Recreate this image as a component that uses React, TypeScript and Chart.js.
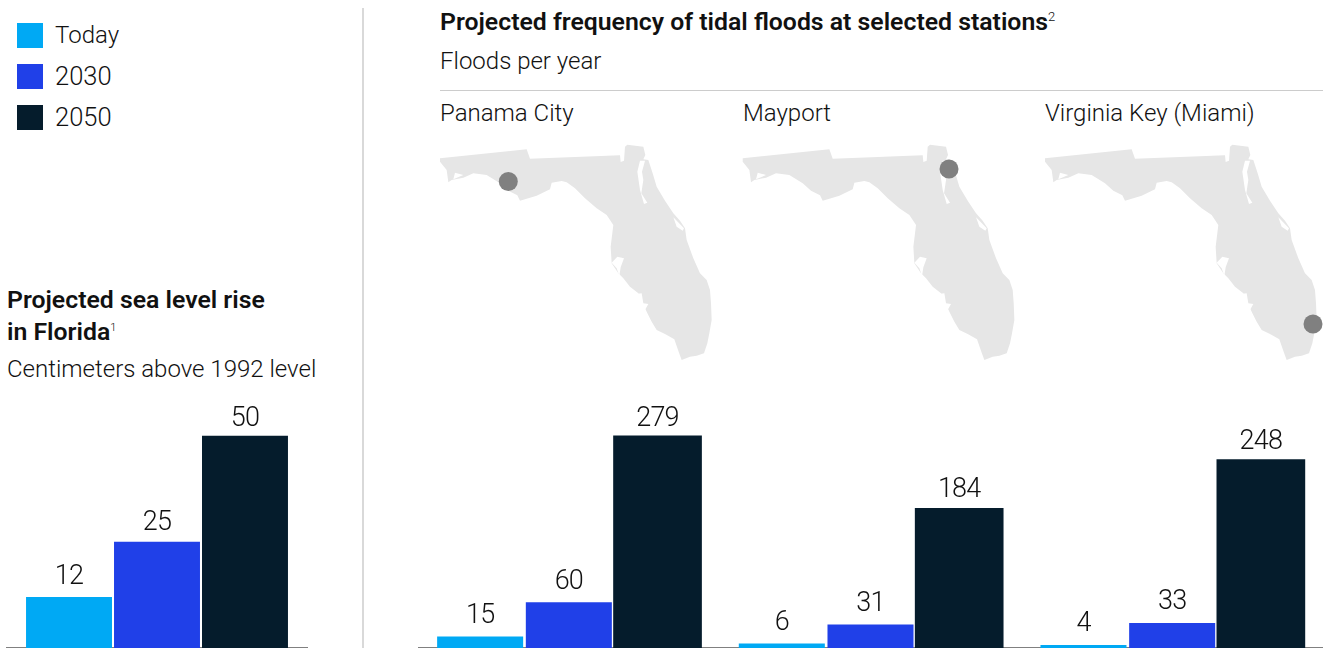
import React, { useEffect, useRef } from "react";
import { Chart, registerables } from "chart.js";

Chart.register(...registerables);

const seriesNames = ["Today", "2030", "2050"];
const seriesColors = ["#00A9F4", "#2040E8", "#051C2C"];
const seaCategories = ["Florida"];
const seaToday = [12];
const sea2030 = [25];
const sea2050 = [50];
const stationNames = ["Panama City", "Mayport", "Virginia Key (Miami)"];
const floodsToday = [15, 6, 4];
const floods2030 = [60, 31, 33];
const floods2050 = [279, 184, 248];

const FONT = "Roboto, sans-serif";
const stationX = [440, 743, 1045];
const mapOffsets = [0, 302.7, 605];
const dots = [
  [508.3, 181.5],
  [949, 169],
  [1313, 324],
];

const valueLabels = {
  id: "valueLabels",
  afterDatasetsDraw(chart: any) {
    const { ctx } = chart;
    ctx.save();
    ctx.font = `300 27px ${FONT}`;
    (ctx as any).letterSpacing = "-0.8px";
    ctx.fillStyle = "#111";
    ctx.textAlign = "center";
    ctx.textBaseline = "alphabetic";
    chart.data.datasets.forEach((ds: any, i: number) => {
      chart.getDatasetMeta(i).data.forEach((bar: any, j: number) => {
        const h = bar.base - bar.y;
        ctx.fillText(String(ds.data[j]), bar.x, bar.y - (14 - (4 * h) / 211.5));
      });
    });
    ctx.restore();
  },
};

function makeChart(canvas: HTMLCanvasElement, labels: string[], rows: number[][], yMax: number, cat: number, bars: number[]) {
  return new Chart(canvas, {
    type: "bar",
    data: {
      labels,
      datasets: rows.map((data, i) => ({
        label: seriesNames[i],
        data,
        backgroundColor: seriesColors[i],
        categoryPercentage: cat,
        barPercentage: bars[i],
      })),
    },
    options: {
      animation: false,
      responsive: false,
      layout: { padding: 0 },
      plugins: { legend: { display: false }, tooltip: { enabled: false } },
      scales: {
        x: {
          grid: { display: false, drawTicks: false },
          border: { color: "#808080", width: 1.5 },
          ticks: { display: false, padding: 0 },
        },
        y: { display: false, min: 0, max: yMax },
      },
    },
    plugins: [valueLabels],
  });
}

const FL =
  "M30 85 L290 58 L300 86 L570 76 L572 96 L582 92 L585 50 L592 44 L640 50 L646 75 L640 88 L655 90 L668 130 L680 170 L705 212 L730 250 L750 272 L765 295 L770 330 L790 385 L810 430 L830 450 L840 480 L843 520 L845 570 L838 610 L832 640 L822 670 L800 677 L780 680 L755 690 L747 668 L733 628 L705 612 L680 600 L665 575 L650 545 L625 490 L600 470 L580 445 L565 430 L545 400 L542 350 L550 285 L530 255 L500 235 L465 205 L435 175 L410 157 L395 153 L365 158 L360 178 L320 197 L270 212 L262 196 L235 182 L210 160 L170 135 L130 130 L100 143 L65 150 L55 157 L50 120 L30 95 Z";
const FL_CUTS =
  "M545 398 L562 380 L582 385 L572 412 L568 438 L560 415 Z M617 492 L635 490 L640 520 L655 522 L642 545 L630 515 Z M630 92 L645 92 L636 125 L640 150 L634 190 L652 218 L642 222 L630 180 L622 125 Z M730 262 L762 295 L758 302 L740 290 Z M75 128 L100 135 L70 148 Z";

function Txt({ x, y, size = 24, bold = false, children }: any) {
  return (
    <div
      style={{
        position: "absolute",
        left: x,
        top: y,
        fontFamily: FONT,
        fontSize: size,
        fontWeight: bold ? 600 : 300,
        lineHeight: "28px",
        color: "#111",
        whiteSpace: "nowrap",
      }}
    >
      {children}
    </div>
  );
}

const supStyle = { fontSize: 13, fontWeight: 300, lineHeight: 0 };

export default function App() {
  const left = useRef<HTMLCanvasElement>(null);
  const right = useRef<HTMLCanvasElement>(null);
  useEffect(() => {
    const a = makeChart(left.current!, seaCategories, [seaToday, sea2030, sea2050], 58.4, 0.874, [0.977, 0.977, 0.977]);
    const b = makeChart(right.current!, stationNames, [floodsToday, floods2030, floods2050], 325.8, 0.882, [0.97, 0.97, 1]);
    return () => {
      a.destroy();
      b.destroy();
    };
  }, []);
  return (
    <div style={{ position: "fixed", left: 0, top: 0, width: 1328, height: 648, overflow: "hidden", background: "#fff" }}>
      {seriesNames.map((n, i) => (
        <React.Fragment key={n}>
          <div style={{ position: "absolute", left: 17, top: 23 + i * 41, width: 26, height: 25, background: seriesColors[i] }} />
          <Txt x={55} y={21 + i * 41} size={i === 0 ? 24 : 25.5}>{n}</Txt>
        </React.Fragment>
      ))}
      <div style={{ position: "absolute", left: 362, top: 8, width: 1.5, height: 640, background: "#d9d9d9" }} />
      <Txt x={7} y={286} size={24.8} bold>Projected sea level rise</Txt>
      <Txt x={7} y={318} size={24.8} bold>in Florida<sup style={{ ...supStyle, fontSize: 11 }}>1</sup></Txt>
      <Txt x={7} y={355}>Centimeters above 1992 level</Txt>
      <Txt x={440} y={8} size={24.8} bold>Projected frequency of tidal floods at selected stations<sup style={supStyle}>2</sup></Txt>
      <Txt x={440} y={47}>Floods per year</Txt>
      <div style={{ position: "absolute", left: 440, top: 90, width: 883, height: 1, background: "#ccc" }} />
      {stationNames.map((n, i) => (
        <Txt key={n} x={stationX[i]} y={99}>{n}</Txt>
      ))}
      <svg style={{ position: "absolute", left: 0, top: 0 }} width={1328} height={648}>
        {mapOffsets.map((dx, i) => (
          <g key={i} transform={`translate(${430 + dx} 130) scale(0.33333)`}>
            <path d={FL} fill="#e6e6e6" />
            <path d={FL_CUTS} fill="#fff" />
          </g>
        ))}
        {dots.map(([x, y], i) => (
          <circle key={i} cx={x} cy={y} r={9.5} fill="#808080" />
        ))}
      </svg>
      <canvas ref={left} width={302} height={248} style={{ position: "absolute", left: 6, top: 400 }} />
      <canvas ref={right} width={905} height={248} style={{ position: "absolute", left: 418, top: 400 }} />
    </div>
  );
}
